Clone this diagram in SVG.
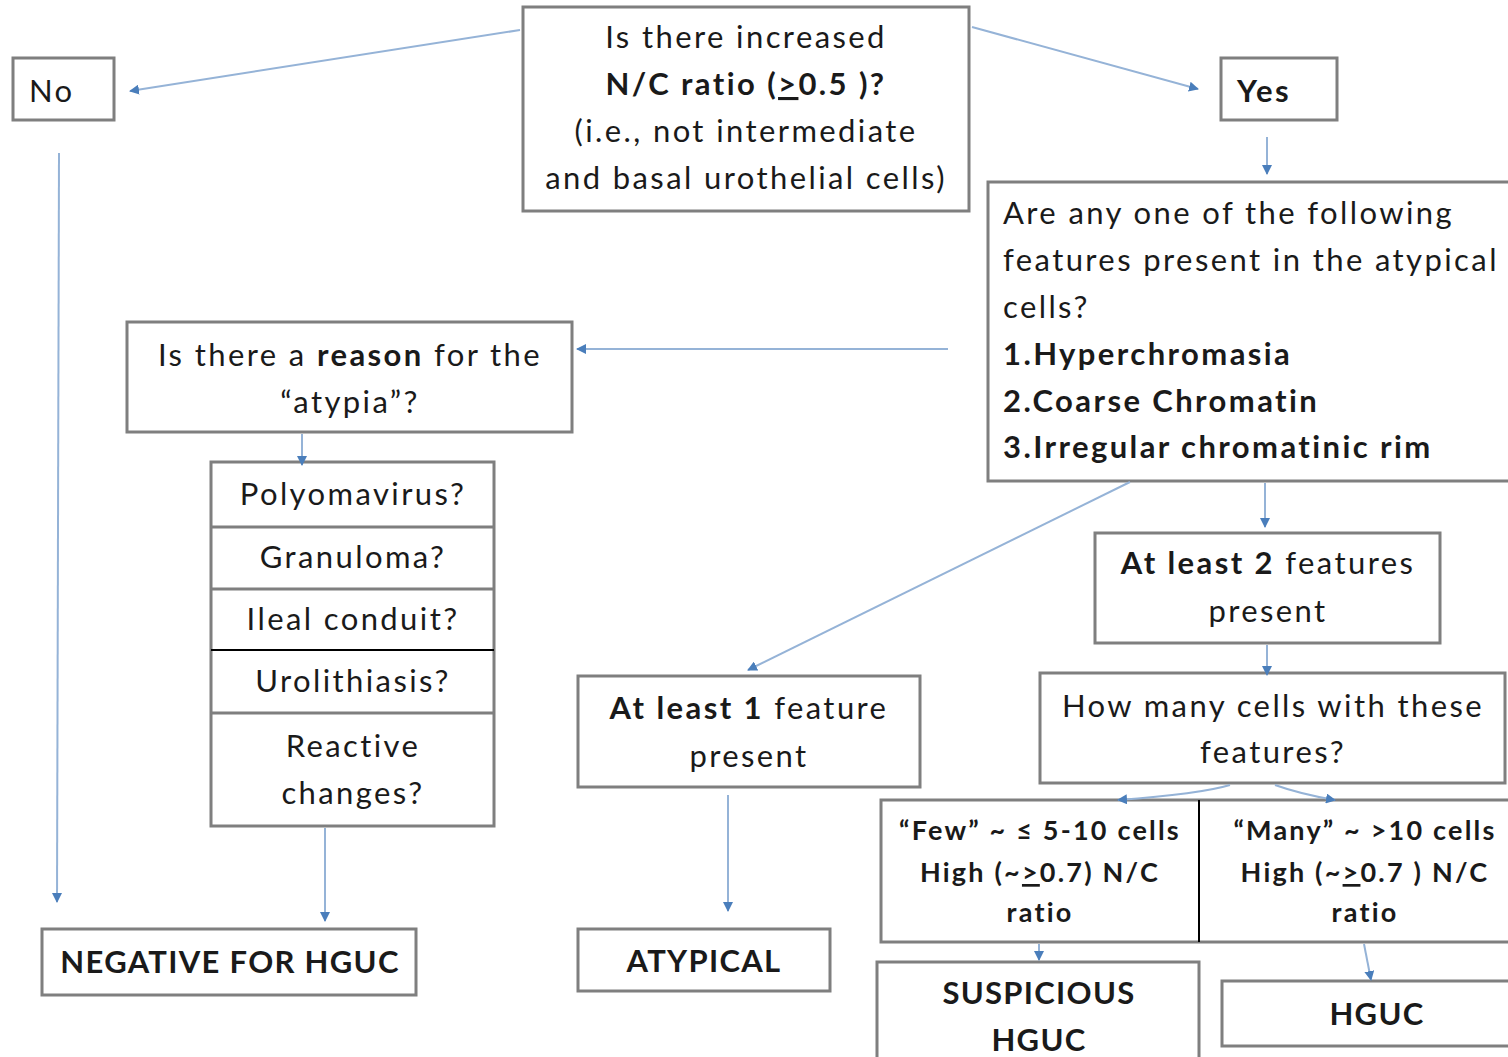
<svg xmlns="http://www.w3.org/2000/svg" width="1508" height="1057" viewBox="0 0 1508 1057">
<defs>
<style>
.box{fill:#fff;stroke:#7f7f7f;stroke-width:3}
.t{font-family:Lato,"Open Sans","Liberation Sans",sans-serif;font-size:31px;letter-spacing:2.4px;fill:#1a1a1a}
.c{text-anchor:middle}
.b{font-weight:bold}
.s{font-size:27px;letter-spacing:2.2px}
.k{letter-spacing:1.3px}
.conn{fill:none;stroke:#95b3d7;stroke-width:2;marker-end:url(#ah)}
.div{stroke:#000;stroke-width:2}
.divg{stroke:#7f7f7f;stroke-width:3}
</style>
<marker id="ah" viewBox="0 0 10 10" refX="9" refY="5" markerWidth="5" markerHeight="5" orient="auto" markerUnits="strokeWidth">
<path d="M0,0 L10,5 L0,10 z" fill="#4a7ebb"/>
</marker>
</defs>
<rect width="1508" height="1057" fill="#fff"/>
<g id="n-top">
<rect class="box" x="523" y="7" width="446" height="204"/>
<text class="t c" x="746" y="48">Is there increased</text>
<text class="t c b" x="746" y="95">N/C ratio (<tspan text-decoration="underline">&gt;</tspan>0.5 )?</text>
<text class="t c" x="746" y="142">(i.e., not intermediate</text>
<text class="t c" x="746" y="189">and basal urothelial cells)</text>
</g>
<g id="n-no">
<rect class="box" x="13" y="58" width="101" height="62"/>
<text class="t" x="29" y="102">No</text>
</g>
<g id="n-yes">
<rect class="box" x="1221" y="58" width="116" height="62"/>
<text class="t b" x="1237" y="102">Yes</text>
</g>
<g id="n-features">
<rect class="box" x="988" y="182" width="530" height="299"/>
<text class="t" x="1003" y="224">Are any one of the following</text>
<text class="t" x="1003" y="271">features present in the atypical</text>
<text class="t" x="1003" y="318">cells?</text>
<text class="t b" x="1003" y="365">1.Hyperchromasia</text>
<text class="t b" x="1003" y="412">2.Coarse Chromatin</text>
<text class="t b" x="1003" y="458">3.Irregular chromatinic rim</text>
</g>
<g id="n-reason">
<rect class="box" x="127" y="322" width="445" height="110"/>
<text class="t c" x="350" y="366">Is there a <tspan class="b">reason</tspan> for the</text>
<text class="t c" x="350" y="413">“atypia”?</text>
</g>
<g id="n-list">
<rect class="box" x="211" y="462" width="283" height="364"/>
<line class="divg" x1="211" y1="527" x2="494" y2="527"/>
<line class="divg" x1="211" y1="589" x2="494" y2="589"/>
<line class="div" x1="211" y1="650" x2="494" y2="650"/>
<line class="divg" x1="211" y1="713" x2="494" y2="713"/>
<text class="t c" x="353" y="505">Polyomavirus?</text>
<text class="t c" x="353" y="568">Granuloma?</text>
<text class="t c" x="353" y="630">Ileal conduit?</text>
<text class="t c" x="353" y="692">Urolithiasis?</text>
<text class="t c" x="353" y="757">Reactive</text>
<text class="t c" x="353" y="804">changes?</text>
</g>
<g id="n-negative">
<rect class="box" x="42" y="929" width="374" height="66"/>
<text class="t c b k" x="230" y="973">NEGATIVE FOR HGUC</text>
</g>
<g id="n-atleast1">
<rect class="box" x="578" y="676" width="342" height="111"/>
<text class="t c" x="749" y="719"><tspan class="b">At least 1</tspan> feature</text>
<text class="t c" x="749" y="767">present</text>
</g>
<g id="n-atypical">
<rect class="box" x="578" y="929" width="252" height="62"/>
<text class="t c b k" x="704" y="972">ATYPICAL</text>
</g>
<g id="n-atleast2">
<rect class="box" x="1095" y="533" width="345" height="110"/>
<text class="t c" x="1268" y="574"><tspan class="b">At least 2</tspan> features</text>
<text class="t c" x="1268" y="622">present</text>
</g>
<g id="n-howmany">
<rect class="box" x="1040" y="673" width="465" height="110"/>
<text class="t c" x="1273" y="717">How many cells with these</text>
<text class="t c" x="1273" y="763">features?</text>
</g>
<g id="n-fewmany">
<rect class="box" x="881" y="800" width="637" height="142"/>
<line class="div" x1="1199" y1="800" x2="1199" y2="942"/>
<text class="t c b s" x="1040" y="840">“Few” ~ ≤ 5-10 cells</text>
<text class="t c b s" x="1040" y="882">High (~<tspan text-decoration="underline">&gt;</tspan>0.7)  N/C</text>
<text class="t c b s" x="1040" y="922">ratio</text>
<text class="t c b s" x="1365" y="840">“Many” ~ &gt;10 cells</text>
<text class="t c b s" x="1365" y="882">High (~<tspan text-decoration="underline">&gt;</tspan>0.7 ) N/C</text>
<text class="t c b s" x="1365" y="922">ratio</text>
</g>
<g id="n-suspicious">
<rect class="box" x="877" y="962" width="322" height="110"/>
<text class="t c b k" x="1039" y="1004">SUSPICIOUS</text>
<text class="t c b k" x="1039" y="1051">HGUC</text>
</g>
<g id="n-hguc">
<rect class="box" x="1222" y="981" width="296" height="65"/>
<text class="t c b k" x="1377" y="1025">HGUC</text>
</g>
<g id="connectors">
<line class="conn" x1="520" y1="30" x2="130" y2="91"/>
<line class="conn" x1="972" y1="27" x2="1198" y2="89"/>
<line class="conn" x1="1267" y1="137" x2="1267" y2="174"/>
<line class="conn" x1="59" y1="153" x2="57" y2="902"/>
<line class="conn" x1="948" y1="349" x2="577" y2="349"/>
<line class="conn" x1="302" y1="434" x2="302" y2="465"/>
<line class="conn" x1="325" y1="828" x2="325" y2="921"/>
<line class="conn" x1="1130" y1="482" x2="748" y2="670"/>
<line class="conn" x1="1265" y1="483" x2="1265" y2="527"/>
<line class="conn" x1="1267" y1="645" x2="1267" y2="675"/>
<line class="conn" x1="728" y1="795" x2="728" y2="911"/>
<path class="conn" d="M1230,785 Q1200,794 1118,800"/>
<path class="conn" d="M1275,785 Q1300,794 1335,800"/>
<line class="conn" x1="1039" y1="944" x2="1039" y2="960"/>
<line class="conn" x1="1364" y1="944" x2="1371" y2="980"/>
</g>
</svg>
